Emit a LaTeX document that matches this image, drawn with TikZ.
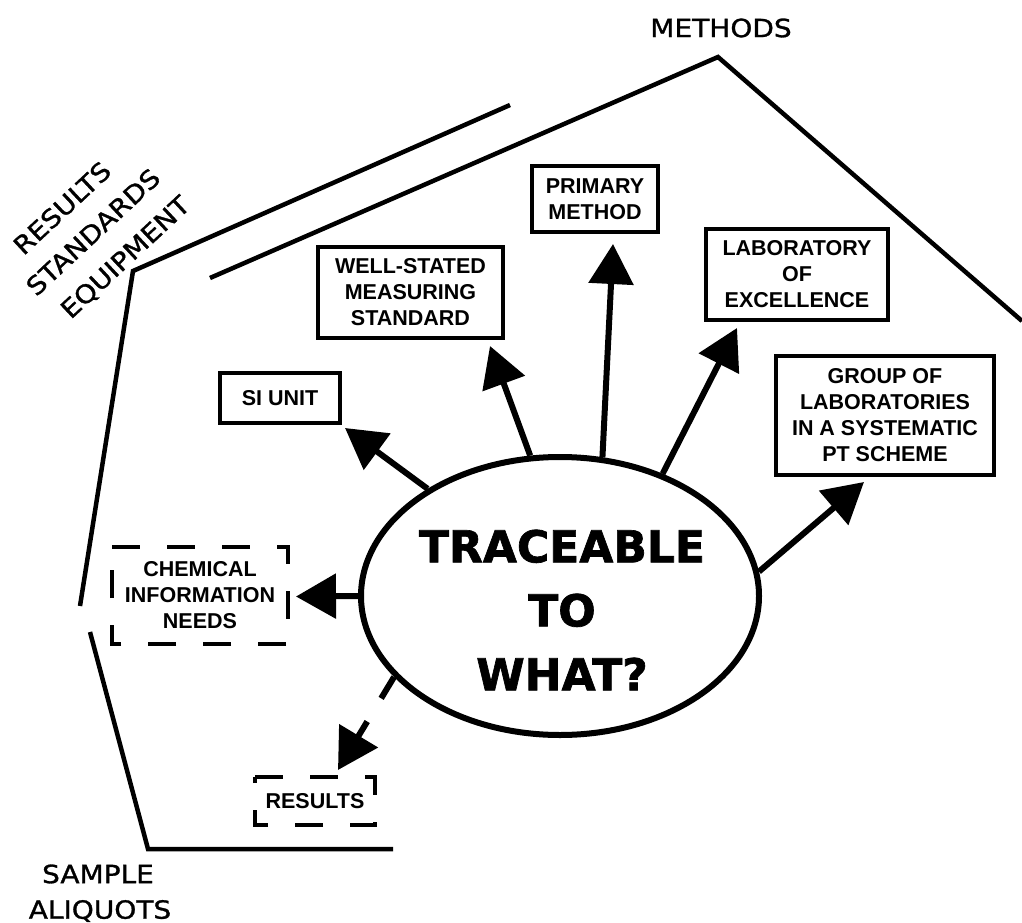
\documentclass[tikz,border=0pt]{standalone}
\usepackage{fontspec}
\setmainfont{Liberation Sans}
\newfontfamily\handfont{DejaVu Sans}[FakeStretch=1.12,FakeBold=1.2]
\newfontfamily\heavyfont{DejaVu Sans}[FakeBold=1.5]
\usetikzlibrary{arrows.meta,shapes.geometric}

\begin{document}
\begin{tikzpicture}[x=1pt,y=-1pt,
  box/.style={draw,line width=4pt,inner sep=0pt,outer sep=0pt,align=center,
    font=\bfseries\fontsize{21.5}{26}\selectfont},
  dbox/.style={inner sep=0pt,outer sep=0pt,align=center,
    font=\bfseries\fontsize{21.5}{26}\selectfont},
  dline/.style={line width=4.5pt,dash pattern=on 28pt off 27pt},
  wall/.style={line width=4.5pt},
  hand/.style={font=\handfont\fontsize{25}{30}\selectfont,inner sep=1pt},
  arr/.style={line width=6pt,-{Triangle[length=40pt,width=44pt]}},
  darr/.style={arr,dash pattern=on 25pt off 27pt}]
\fill[white] (0,0) rectangle (1022,923);
\useasboundingbox (0,0) rectangle (1022,923);
% outline
\draw[wall] (510,105) -- (133,271) -- (80,606);
\draw[wall] (210,278) -- (718,57) -- (1022,321);
\draw[wall] (90,632) -- (148,849) -- (393,849);
% hand written labels
\node[hand] (meth) at (721,28) {METHODS};
\node[hand,rotate=43] (resl) at (62,208) {RESULTS};
\node[hand,rotate=43] (stdl) at (93,232) {STANDARDS};
\node[hand,rotate=43] (eqpl) at (126,258) {EQUIPMENT};
\node[hand] (samp) at (98,874) {SAMPLE};
\node[hand] (aliq) at (100,911) {ALIQUOTS};
% centre
\node[draw,ellipse,line width=6pt,minimum width=398pt,minimum height=278pt,inner sep=0pt] (ell) at (560,596) {};
\node[font=\heavyfont\bfseries\fontsize{44}{64}\selectfont,align=center] (ask) at (562,610) {TRACEABLE\\TO\\WHAT?};
% boxes
\node[box,minimum width=120pt,minimum height=50pt] (si) at (280,398) {SI UNIT};
\node[box,minimum width=185pt,minimum height=91pt] (well) at (410.5,292.5) {WELL-STATED\\MEASURING\\STANDARD};
\node[box,minimum width=126pt,minimum height=66pt] (prim) at (595,199) {PRIMARY\\METHOD};
\node[box,minimum width=182pt,minimum height=91pt] (lab) at (797,274.5) {LABORATORY\\OF\\EXCELLENCE};
\node[box,minimum width=218pt,minimum height=119pt] (grp) at (885,415.5) {GROUP OF\\LABORATORIES\\IN A SYSTEMATIC\\PT SCHEME};
\node[dbox,minimum width=176pt,minimum height=97pt] (chem) at (200,595.5) {CHEMICAL\\INFORMATION\\NEEDS};
\node[dbox,minimum width=120pt,minimum height=48pt] (res) at (315,801) {RESULTS};
\draw[dline] (chem.north west) -- (chem.north east) -- (chem.south east) -- (chem.south west) -- cycle;
\draw[dline] (res.north west) -- (res.north east) -- (res.south east) -- (res.south west) -- cycle;
% arrows
\draw[arr] (ell.141) -- ([shift={(5,5)}]si.south east);
\draw[arr] (ell.102) -- ([shift={(-13,8)}]well.south east);
\draw[arr] (ell.73) -- ([shift={(18,12)}]prim.south);
\draw[arr] (ell.50) -- ([shift={(31,8)}]lab.south west);
\draw[arr] (ell.7) -- ([shift={(88,7)}]grp.south west);
\draw[darr] (ell.180) -- ([shift={(8,1)}]chem.east);
\draw[darr] (ell.206) -- ([shift={(23,-7)}]res.north);
\end{tikzpicture}
\end{document}
